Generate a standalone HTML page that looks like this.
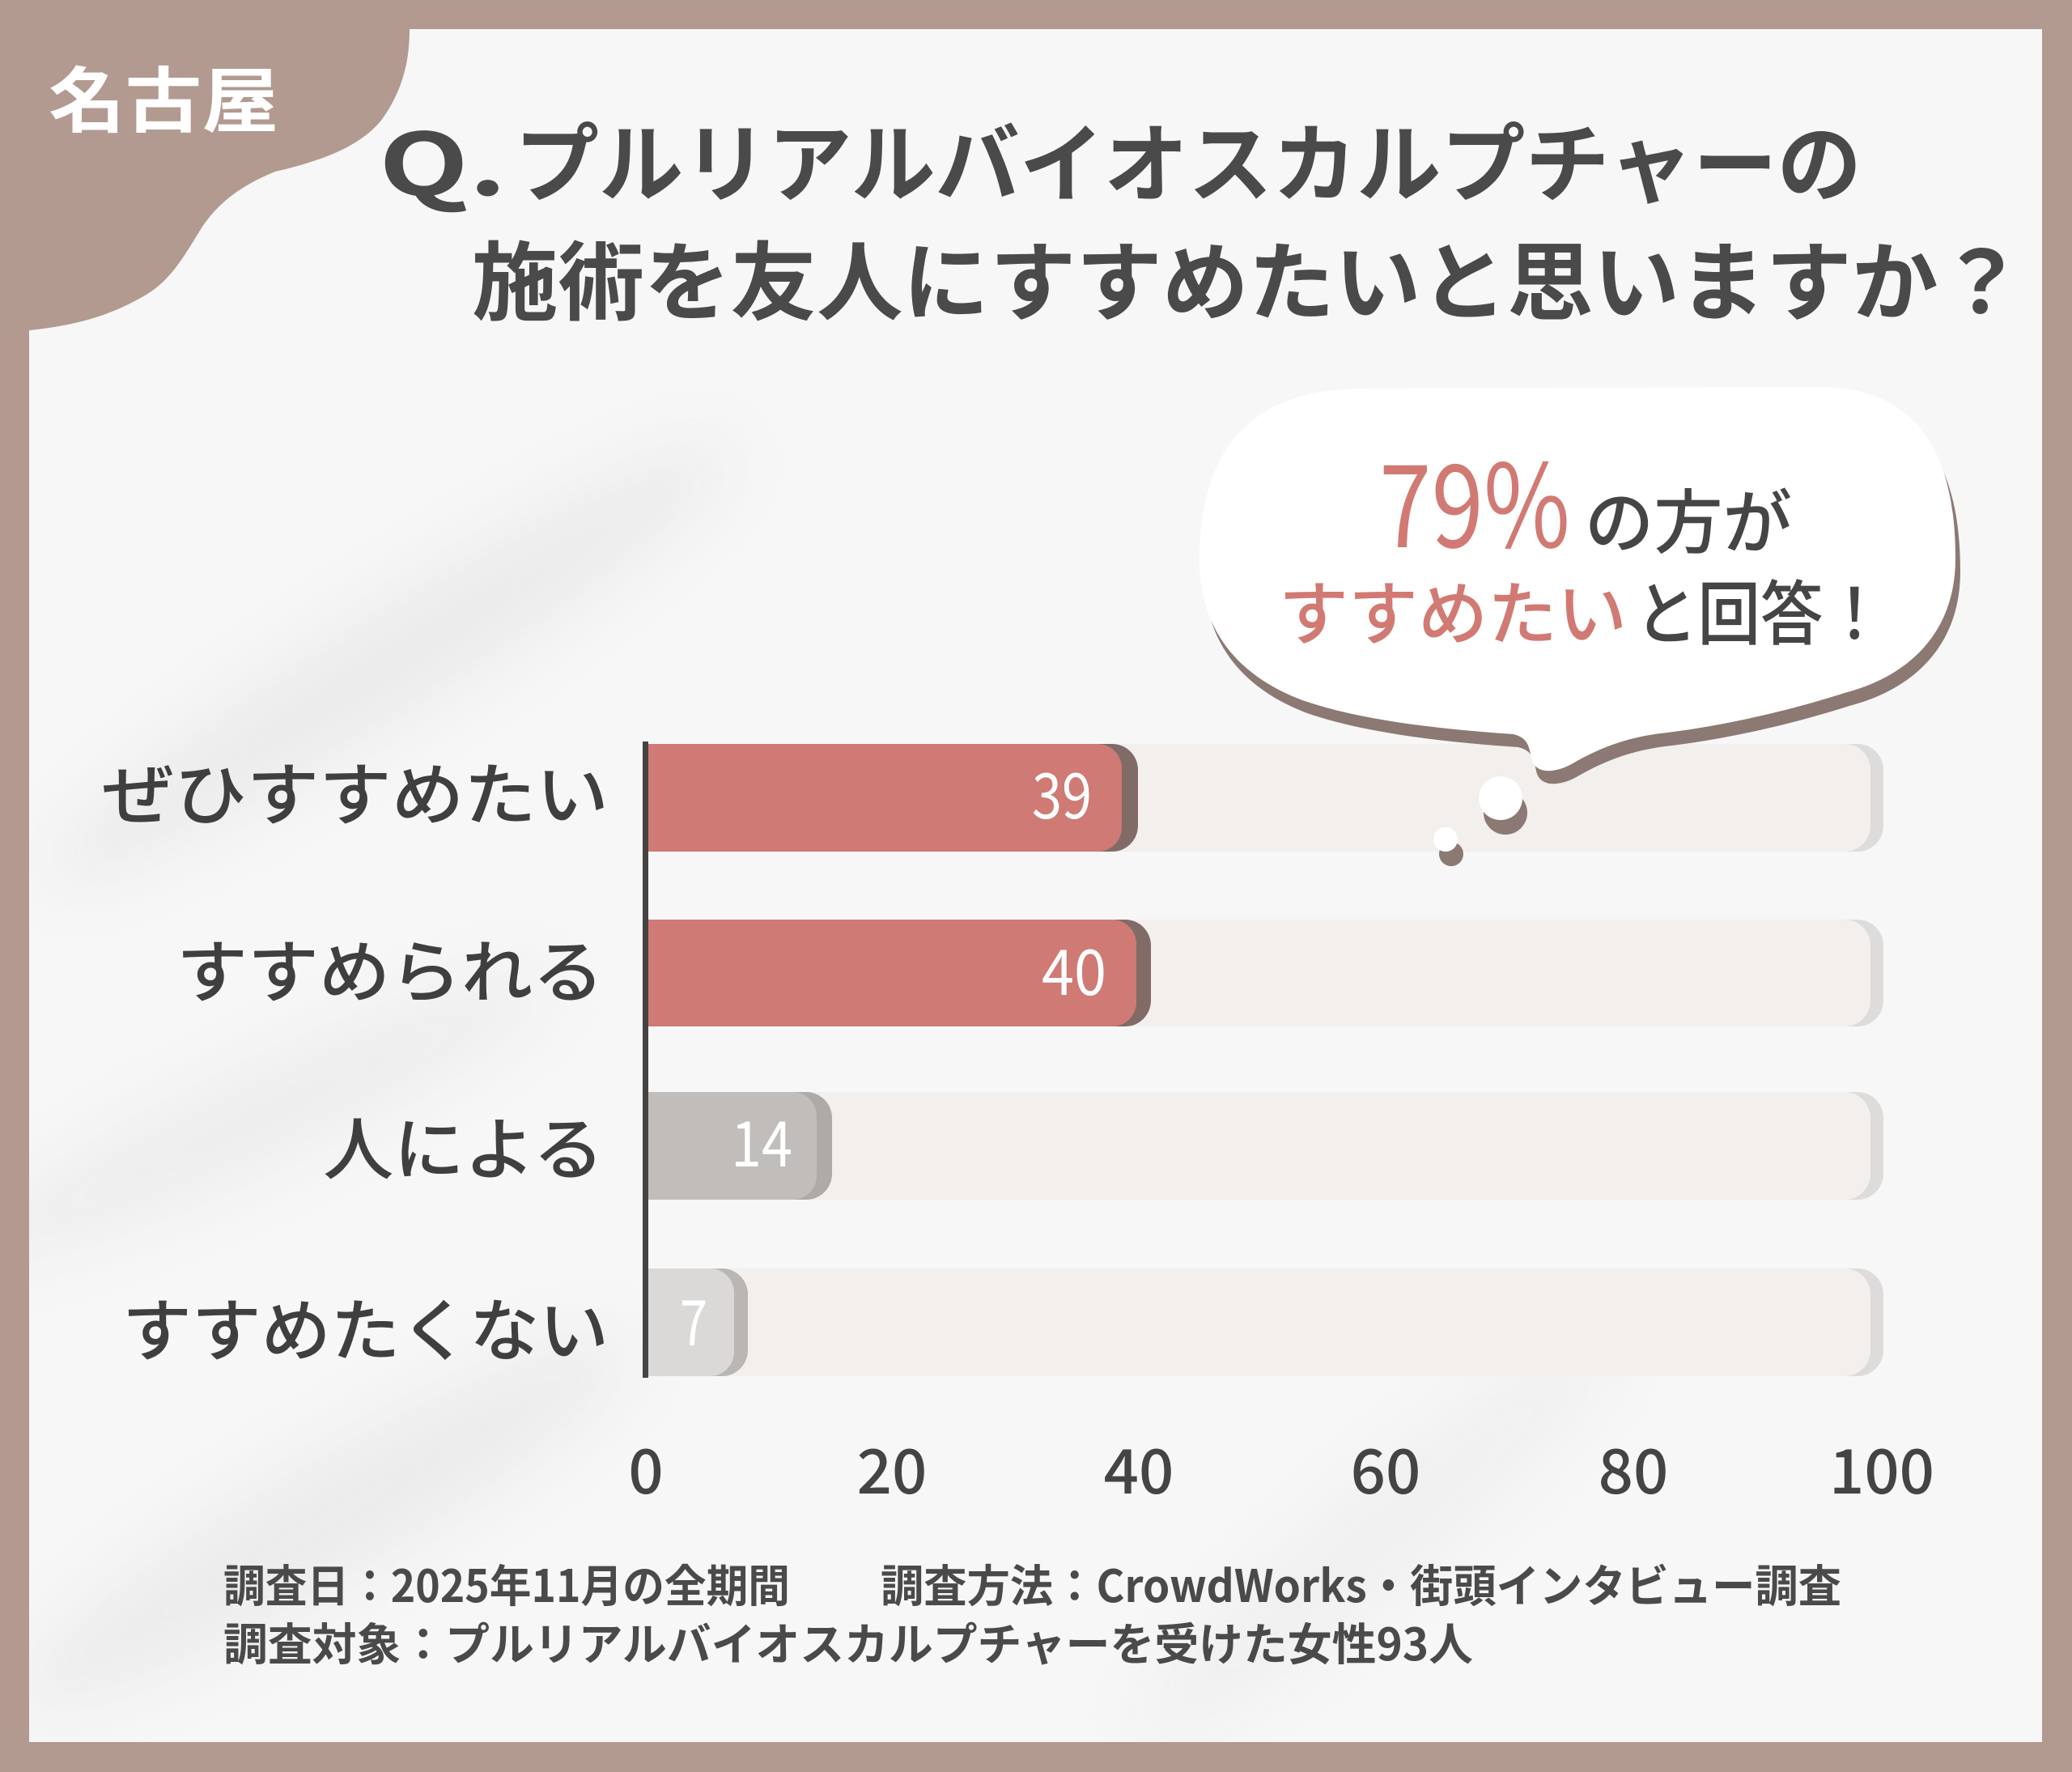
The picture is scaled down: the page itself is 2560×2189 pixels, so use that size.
<!DOCTYPE html>
<html>
<head>
<meta charset="utf-8">
<style>
html,body{margin:0;padding:0;background:#b29a91;}
body{width:2560px;height:2189px;overflow:hidden;}
svg{display:block;}
text{font-family:"Liberation Sans","Noto Sans CJK JP",sans-serif;}
.jp{font-family:"Noto Sans CJK JP","Liberation Sans",sans-serif;}
</style>
</head>
<body>
<svg width="2560" height="2189" viewBox="0 0 2560 2189" xmlns="http://www.w3.org/2000/svg">
  <defs>
    <filter id="blur" x="-50%" y="-50%" width="200%" height="200%">
      <feGaussianBlur stdDeviation="40"/>
    </filter>
    <clipPath id="panel">
      <rect x="36" y="36" width="2487" height="2116"/>
    </clipPath>
  </defs>
  <!-- border -->
  <rect x="0" y="0" width="2560" height="2189" fill="#b29a91"/>
  <!-- inner panel -->
  <rect x="36" y="36" width="2487" height="2116" fill="#f7f7f7"/>
  <!-- subtle background shadows -->
  <g clip-path="url(#panel)">
    <g filter="url(#blur)" opacity="0.45">
      <ellipse cx="480" cy="820" rx="500" ry="70" fill="#dedede" transform="rotate(-32 480 820)"/>
      <ellipse cx="320" cy="1380" rx="400" ry="60" fill="#e2e2e2" transform="rotate(-25 320 1380)"/>
      <ellipse cx="400" cy="1880" rx="440" ry="80" fill="#e0e0e0" transform="rotate(-30 400 1880)"/>
      <ellipse cx="1700" cy="1900" rx="380" ry="60" fill="#e6e6e6" transform="rotate(-40 1700 1900)"/>
    </g>
  </g>
  <!-- top-left blob -->
  <path d="M0,0 L506,0 L506,36 C506,70 500,110 470,150 C440,185 390,200 340,212 C300,228 270,250 250,280 C225,320 210,350 170,370 C130,392 90,402 37,408 L0,408 Z" fill="#b29a91"/>
  <text class="jp" x="60" y="156" font-size="88" font-weight="700" fill="#ffffff" textLength="284" lengthAdjust="spacingAndGlyphs">名古屋</text>

  <!-- title -->
  <text class="jp" x="468" y="241" font-size="106" font-weight="700" fill="#4a4a4a" textLength="158" lengthAdjust="spacingAndGlyphs">Q.</text>
  <text class="jp" x="636" y="241" font-size="106" font-weight="700" fill="#4a4a4a" textLength="1664" lengthAdjust="spacingAndGlyphs">プルリアルバイオスカルプチャーの</text>
  <text class="jp" x="583" y="387" font-size="106" font-weight="700" fill="#4a4a4a" textLength="1918" lengthAdjust="spacingAndGlyphs">施術を友人にすすめたいと思いますか？</text>

  <!-- bar tracks -->
  <g>
    <path d="M801,919 H2295 A32,32 0 0 1 2327,951 V1020 A32,32 0 0 1 2295,1052 H801 Z" fill="#dedcdb"/>
    <path d="M801,919 H2279 A32,32 0 0 1 2311,951 V1020 A32,32 0 0 1 2279,1052 H801 Z" fill="#f2efed"/>
    <path d="M801,1136 H2295 A32,32 0 0 1 2327,1168 V1236 A32,32 0 0 1 2295,1268 H801 Z" fill="#dedcdb"/>
    <path d="M801,1136 H2279 A32,32 0 0 1 2311,1168 V1236 A32,32 0 0 1 2279,1268 H801 Z" fill="#f2efed"/>
    <path d="M801,1349 H2295 A32,32 0 0 1 2327,1381 V1450 A32,32 0 0 1 2295,1482 H801 Z" fill="#dedcdb"/>
    <path d="M801,1349 H2279 A32,32 0 0 1 2311,1381 V1450 A32,32 0 0 1 2279,1482 H801 Z" fill="#f2efed"/>
    <path d="M801,1567 H2295 A32,32 0 0 1 2327,1599 V1668 A32,32 0 0 1 2295,1700 H801 Z" fill="#dedcdb"/>
    <path d="M801,1567 H2279 A32,32 0 0 1 2311,1599 V1668 A32,32 0 0 1 2279,1700 H801 Z" fill="#f2efed"/>
  </g>

  <!-- value bars -->
  <g>
    <path d="M801,919 H1374 A32,32 0 0 1 1406,951 V1020 A32,32 0 0 1 1374,1052 H801 Z" fill="#806b66"/>
    <path d="M801,919 H1356 A30,30 0 0 1 1386,949 V1022 A30,30 0 0 1 1356,1052 H801 Z" fill="#cf7a74"/>
    <path d="M801,1136 H1390 A32,32 0 0 1 1422,1168 V1236 A32,32 0 0 1 1390,1268 H801 Z" fill="#806b66"/>
    <path d="M801,1136 H1374 A30,30 0 0 1 1404,1166 V1238 A30,30 0 0 1 1374,1268 H801 Z" fill="#cf7a74"/>
    <path d="M801,1349 H996 A32,32 0 0 1 1028,1381 V1450 A32,32 0 0 1 996,1482 H801 Z" fill="#aeaaa8"/>
    <path d="M801,1349 H979 A30,30 0 0 1 1009,1379 V1452 A30,30 0 0 1 979,1482 H801 Z" fill="#c1bdbb"/>
    <path d="M801,1567 H892 A32,32 0 0 1 924,1599 V1668 A32,32 0 0 1 892,1700 H801 Z" fill="#b9b6b4"/>
    <path d="M801,1567 H877 A30,30 0 0 1 907,1597 V1670 A30,30 0 0 1 877,1700 H801 Z" fill="#dbd9d8"/>
  </g>

  <!-- axis -->
  <rect x="794" y="916" width="7" height="786" fill="#444444"/>

  <!-- value labels -->
  <text class="jp" x="1275" y="1011" font-size="78" font-weight="400" fill="#ffffff" textLength="74" lengthAdjust="spacingAndGlyphs">39</text>
  <text class="jp" x="1287" y="1229" font-size="78" font-weight="400" fill="#ffffff" textLength="80" lengthAdjust="spacingAndGlyphs">40</text>
  <text class="jp" x="903" y="1441" font-size="78" font-weight="400" fill="#ffffff" textLength="76" lengthAdjust="spacingAndGlyphs">14</text>
  <text class="jp" x="840" y="1662" font-size="78" font-weight="400" fill="#ffffff" textLength="34" lengthAdjust="spacingAndGlyphs">7</text>

  <!-- category labels -->
  <text class="jp" x="126" y="1012" font-size="84" font-weight="500" fill="#3f3f3f" textLength="626" lengthAdjust="spacingAndGlyphs">ぜひすすめたい</text>
  <text class="jp" x="218" y="1231" font-size="84" font-weight="500" fill="#3f3f3f" textLength="528" lengthAdjust="spacingAndGlyphs">すすめられる</text>
  <text class="jp" x="399" y="1450" font-size="84" font-weight="500" fill="#3f3f3f" textLength="347" lengthAdjust="spacingAndGlyphs">人による</text>
  <text class="jp" x="151" y="1674" font-size="84" font-weight="500" fill="#3f3f3f" textLength="601" lengthAdjust="spacingAndGlyphs">すすめたくない</text>

  <!-- x axis labels -->
  <g font-size="76" font-weight="500" fill="#444444" text-anchor="middle">
    <text class="jp" x="798" y="1845">0</text>
    <text class="jp" x="1102" y="1845">20</text>
    <text class="jp" x="1407" y="1845">40</text>
    <text class="jp" x="1712" y="1845">60</text>
    <text class="jp" x="2018" y="1845">80</text>
    <text class="jp" x="2325" y="1845">100</text>
  </g>

  <!-- speech bubble shadow -->
  <g transform="translate(6,16)" fill="#8c7973">
    <path d="M2416,690 C2416,780 2360,835 2279,856 C2220,875 2140,895 2060,905 C2010,910 1975,925 1945,942 C1925,954 1900,958 1893,940 C1889,925 1890,912 1870,907 C1800,902 1690,893 1609,865 C1530,835 1485,780 1482,700 C1480,560 1540,482 1680,480 L2250,478 C2370,480 2416,560 2416,690 Z"/>
    <circle cx="1854" cy="988" r="27"/>
    <circle cx="1787" cy="1039" r="15"/>
  </g>
  <!-- speech bubble -->
  <g fill="#ffffff">
    <path d="M2416,690 C2416,780 2360,835 2279,856 C2220,875 2140,895 2060,905 C2010,910 1975,925 1945,942 C1925,954 1900,958 1893,940 C1889,925 1890,912 1870,907 C1800,902 1690,893 1609,865 C1530,835 1485,780 1482,700 C1480,560 1540,482 1680,480 L2250,478 C2370,480 2416,560 2416,690 Z"/>
    <circle cx="1854" cy="986" r="27"/>
    <circle cx="1786" cy="1037" r="15"/>
  </g>

  <!-- bubble text -->
  <text class="jp" x="1704" y="676" font-size="142" font-weight="400" fill="#d17a73" textLength="236" lengthAdjust="spacingAndGlyphs">79%</text>
  <text class="jp" x="1958" y="676" font-size="86" font-weight="500" fill="#454545" textLength="256" lengthAdjust="spacingAndGlyphs">の方が</text>
  <text class="jp" x="1580" y="789" font-size="86" font-weight="500" fill="#d17a73" textLength="430" lengthAdjust="spacingAndGlyphs">すすめたい</text>
  <text class="jp" x="2020" y="789" font-size="86" font-weight="500" fill="#454545" textLength="310" lengthAdjust="spacingAndGlyphs">と回答！</text>

  <!-- footer -->
  <text class="jp" x="276" y="1979" font-size="55" font-weight="700" fill="#4a4a4a" textLength="700" lengthAdjust="spacingAndGlyphs">調査日：2025年11月の全期間</text>
  <text class="jp" x="1088" y="1979" font-size="55" font-weight="700" fill="#4a4a4a" textLength="1187" lengthAdjust="spacingAndGlyphs">調査方法：CrowdWorks・街頭インタビュー調査</text>
  <text class="jp" x="276" y="2051" font-size="55" font-weight="700" fill="#4a4a4a" textLength="1544" lengthAdjust="spacingAndGlyphs">調査対象：プルリアルバイオスカルプチャーを受けた女性93人</text>
</svg>
</body>
</html>
